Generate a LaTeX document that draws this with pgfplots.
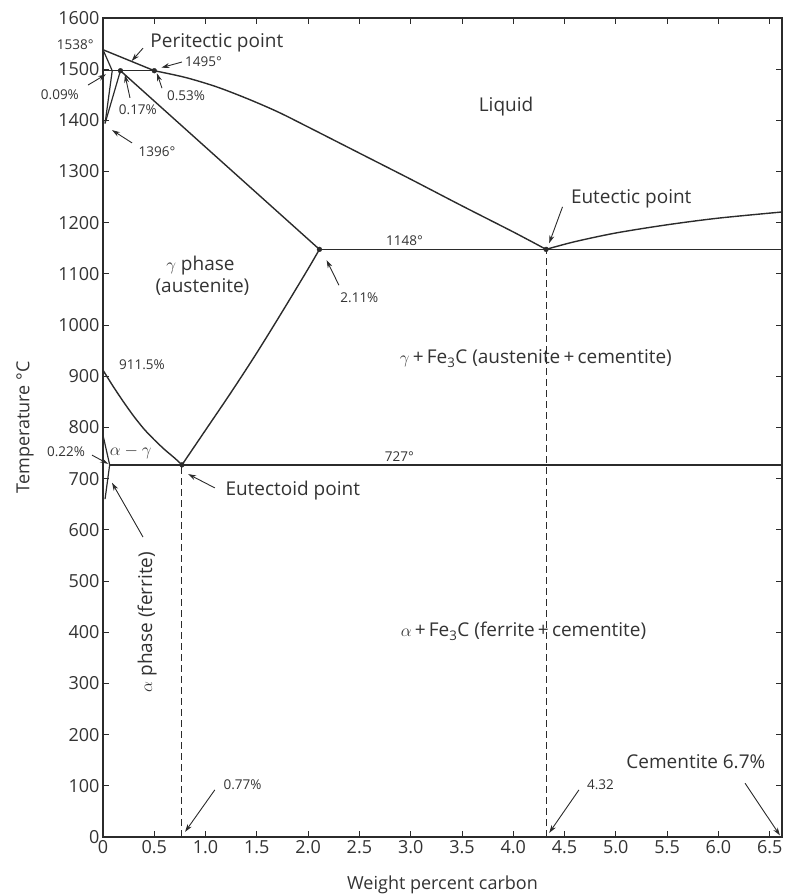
\documentclass[border=0pt]{standalone}
\usepackage{fontspec}
\setmainfont{Open Sans}
\usepackage{pgfplots}
\pgfplotsset{compat=1.18}
\usetikzlibrary{arrows.meta}
\definecolor{ink}{HTML}{2B2B2B}
\definecolor{txt}{HTML}{333333}
\tikzset{
  lab/.style={font=\fontsize{19}{22}\selectfont, text=txt, inner sep=0pt},
  sm/.style={font=\fontsize{13.5}{15}\selectfont, text=txt, inner sep=0pt},
  arr/.style={-{Stealth[length=8pt,width=5pt]}, line width=0.9pt, ink},
}
\begin{document}
\begin{tikzpicture}
\useasboundingbox (-103pt,-59pt) rectangle (681pt,837pt);
\begin{axis}[
  at={(0pt,0pt)}, anchor=south west,
  width=679pt, height=819pt, scale only axis,
  xmin=0, xmax=6.62, ymin=0, ymax=1600,
  clip=false,
  xtick={0,0.5,1,1.5,2,2.5,3,3.5,4,4.5,5,5.5,6,6.5},
  xticklabels={0,0.5,1.0,1.5,2.0,2.5,3.0,3.5,4.0,4.5,5.0,5.5,6.0,6.5},
  ytick={0,100,...,1600},
  tick align=inside, major tick length=6pt,
  tick style={ink, line width=0.9pt},
  axis line style={ink, line width=1.2pt},
  /pgf/number format/assume math mode=true,
  /pgf/number format/1000 sep={},
  tick label style={font=\fontsize{18}{18}\selectfont, text=txt},
  xlabel={Weight percent carbon},
  ylabel={Temperature °C},
  label style={font=\fontsize{18}{18}\selectfont, text=txt},
  xlabel style={at={(axis description cs:0.5,-0.0586)}, anchor=center},
  ylabel style={at={(axis description cs:-0.1149,0.5)}, anchor=center},
]
% liquidus (delta part)
\addplot[ink, line width=1.4pt] coordinates {(0,1538)(0.5,1497)};
% liquidus to eutectic
\addplot[ink, line width=1.4pt, smooth] coordinates {(0.5,1497)(0.8,1484)(1.1,1466)(1.4,1443)(1.7,1417)(2.0,1387)(2.5,1336)(3.0,1285)(3.5,1233)(4.0,1182)(4.32,1148)};
% peritectic horizontal
\addplot[ink, line width=1.4pt] coordinates {(0,1497)(0.5,1497)};
% delta region
\addplot[ink, line width=1.2pt] coordinates {(0,1538)(0.09,1497)(0.02,1394)};
\addplot[ink, line width=1.2pt] coordinates {(0.17,1497)(0.02,1394)};
% gamma solidus
\addplot[ink, line width=1.4pt] coordinates {(0.17,1497)(2.11,1148)};
% eutectic line
\addplot[ink, line width=1.4pt] coordinates {(2.11,1148)(6.62,1148)};
% liquidus right
\addplot[ink, line width=1.4pt, smooth] coordinates {(4.32,1148)(4.6,1163)(5.0,1180)(5.5,1196)(6.0,1209)(6.62,1221)};
% A3
\addplot[ink, line width=1.4pt, smooth] coordinates {(0,912)(0.1,880)(0.2,850)(0.3,822)(0.4,797)(0.5,776)(0.6,757)(0.7,740)(0.77,727)};
% Acm
\addplot[ink, line width=1.4pt, smooth] coordinates {(0.77,727)(1.0,795)(1.25,869)(1.5,946)(1.75,1027)(2.0,1110)(2.11,1148)};
% eutectoid line
\addplot[ink, line width=1.4pt] coordinates {(0.065,727)(6.62,727)};
% alpha boundary
\addplot[ink, line width=1.2pt] coordinates {(0,785)(0.065,727)(0.02,660)};
% dashed
\addplot[ink, line width=1pt, dash pattern=on 7pt off 4pt] coordinates {(0.77,0)(0.77,727)};
\addplot[ink, line width=1pt, dash pattern=on 7pt off 4pt] coordinates {(4.32,0)(4.32,1148)};
% dots
\addplot[only marks, mark=*, mark size=2.4pt, ink] coordinates {(0.17,1497)(0.5,1497)(2.11,1148)(4.32,1148)(0.77,727)};

% annotations
\node[sm] at (axis cs:-0.27,1547) {1538°};
\node[lab] at (axis cs:1.11,1551) {Peritectic point};
\draw[arr] (axis cs:0.39,1541) -- (axis cs:0.28,1516);
\node[sm] at (axis cs:0.98,1514) {1495°};
\draw[arr] (axis cs:0.77,1514) -- (axis cs:0.57,1503);
\node[sm] at (axis cs:0.81,1449) {0.53\%};
\draw[arr] (axis cs:0.575,1463) -- (axis cs:0.526,1492);
\node[sm] at (axis cs:0.34,1420) {0.17\%};
\draw[arr] (axis cs:0.263,1444) -- (axis cs:0.214,1489);
\node[sm] at (axis cs:-0.42,1451) {0.09\%};
\draw[arr] (axis cs:-0.146,1469) -- (axis cs:0.03,1490);
\node[sm] at (axis cs:0.526,1338) {1396°};
\draw[arr] (axis cs:0.283,1356) -- (axis cs:0.088,1381);
\node[sm] at (axis cs:0.38,922) {911.5\%};
\node[sm] at (axis cs:-0.36,752) {0.22\%};
\draw[arr] (axis cs:-0.107,746) -- (axis cs:0.05,729);
\node[lab] at (axis cs:0.27,752) {$\alpha-\gamma$};
\node[sm] at (axis cs:2.89,744) {727°};
\node[lab] at (axis cs:1.85,676) {Eutectoid point};
\draw[arr] (axis cs:1.09,682) -- (axis cs:0.83,709);
\node[lab] at (axis cs:0.95,1117) {$\gamma$ phase};
\node[lab] at (axis cs:0.97,1074) {(austenite)};
\node[sm] at (axis cs:2.50,1053) {2.11\%};
\draw[arr] (axis cs:2.30,1078) -- (axis cs:2.18,1127);
\node[sm] at (axis cs:2.94,1164) {1148°};
\node[lab] at (axis cs:3.93,1426) {Liquid};
\node[lab] at (axis cs:5.15,1246) {Eutectic point};
\draw[arr] (axis cs:4.48,1231) -- (axis cs:4.35,1160);
\node[lab] at (axis cs:4.22,934) {$\gamma$\,+\,Fe\textsubscript{3}C (austenite\,+\,cementite)};
\node[lab] at (axis cs:4.10,402) {$\alpha$\,+\,Fe\textsubscript{3}C (ferrite\,+\,cementite)};
\node[lab, rotate=90] at (axis cs:0.43,420) {$\alpha$ phase (ferrite)};
\draw[arr] (axis cs:0.39,586) -- (axis cs:0.088,692);
\node[sm] at (axis cs:1.36,102) {0.77\%};
\draw[arr] (axis cs:1.09,92) -- (axis cs:0.80,10);
\node[sm] at (axis cs:4.85,102) {4.32};
\draw[arr] (axis cs:4.64,92) -- (axis cs:4.35,8);
\node[lab] at (axis cs:5.78,147) {Cementite 6.7\%};
\draw[arr] (axis cs:6.26,105) -- (axis cs:6.6,3);
\end{axis}
\end{tikzpicture}
\end{document}
